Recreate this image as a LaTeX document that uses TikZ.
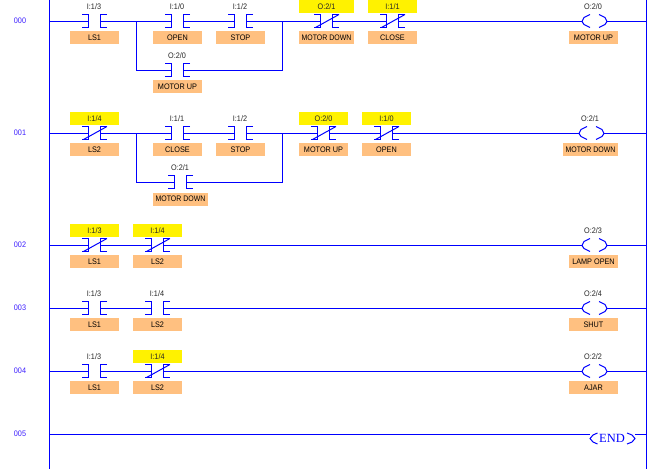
\documentclass[tikz,border=0pt]{standalone}
\usepackage{fontspec}
\setmainfont{Liberation Sans}
\newfontfamily\endfont{Liberation Serif}
\newfontfamily\labelfont[FakeStretch=0.91]{Liberation Sans}
\newfontfamily\widefont[FakeStretch=0.87]{Liberation Sans}
\definecolor{wire}{RGB}{0,0,255}
\definecolor{tagfill}{RGB}{255,192,128}
\definecolor{rungno}{RGB}{60,30,255}
\tikzset{
  wireline/.style={draw=wire,line width=1pt},
  symline/.style={draw=wire,line width=1pt,line join=miter},
  tag/.style={fill=tagfill,minimum height=13pt,minimum width=49pt,inner sep=0pt,font=\labelfont\fontsize{8}{8}\selectfont,text=black},
  widetag/.style={tag,minimum width=55pt,font=\widefont\fontsize{8}{8}\selectfont},
  addr/.style={inner sep=0pt,font=\labelfont\fontsize{8}{8}\selectfont,text=black!85},
  flag/.style={inner sep=0pt,minimum height=13pt,minimum width=49pt,fill=yellow,font=\labelfont\fontsize{8}{8}\selectfont,text=black!85},
  numlabel/.style={inner sep=0pt,font=\labelfont\fontsize{8}{8}\selectfont,text=rungno},
}
% #1 name, #2 x, #3 y
\newcommand{\contactNO}[3]{%
  \coordinate (#1l) at (#2-6,#3);
  \coordinate (#1r) at (#2+6,#3);
  \draw[symline] (#2-12.5,#3-7) -- (#2-6,#3-7) -- (#2-6,#3+6) -- (#2-12.5,#3+6);
  \draw[symline] (#2+12.5,#3-7) -- (#2+6,#3-7) -- (#2+6,#3+6) -- (#2+12.5,#3+6);
}
\newcommand{\contactNC}[3]{\contactNO{#1}{#2}{#3}%
  \draw[symline] (#2-11,#3+6) -- (#2+12.5,#3-7);}
\newcommand{\coilsym}[3]{%
  \coordinate (#1l) at (#2-12.5,#3);
  \coordinate (#1r) at (#2+12.5,#3);
  \draw[symline] (#2-4.5,#3-7) -- (#2-10.5,#3-4) -- (#2-12.5,#3) -- (#2-10.5,#3+3) -- (#2-4.5,#3+6);
  \draw[symline] (#2+4.5,#3-7) -- (#2+10.5,#3-4) -- (#2+12.5,#3) -- (#2+10.5,#3+3) -- (#2+4.5,#3+6);}
\begin{document}
\begin{tikzpicture}[x=1pt,y=-1pt]
\useasboundingbox (0,0) rectangle (660,469);
\fill[white] (0,0) rectangle (660,469);
% rails
\coordinate (railLt) at (49.5,0); \coordinate (railLb) at (49.5,469);
\coordinate (railRt) at (646.5,0); \coordinate (railRb) at (646.5,469);
\draw[wireline] (railLt) -- (railLb);
\draw[wireline] (railRt) -- (railRb);
% rung numbers
\foreach \n/\y in {000/21,001/133,002/245,003/308,004/371,005/434}
  \node[numlabel] (num\n) at (20,\y) {\n};
% rail junctions
\foreach \k/\y in {a/21.5,b/133.5,c/245.5,d/308.5,e/371.5,f/434.5}{
  \coordinate (l\k) at (49.5,\y);
  \coordinate (r\k) at (646.5,\y);
}
% ---- rung 000
\contactNO{a1}{94.5}{21.5}\contactNO{a2}{177.5}{21.5}\contactNO{a3}{240.5}{21.5}
\contactNC{a4}{326.5}{21.5}\contactNC{a5}{392.5}{21.5}\coilsym{a6}{594.5}{21.5}
\contactNO{a7}{177.5}{70.5}
\coordinate (abl) at (136.5,21.5); \coordinate (abr) at (282.5,21.5);
\coordinate (abld) at (136.5,70.5); \coordinate (abrd) at (282.5,70.5);
\draw[wireline] (la) -- (a1l) (a1r) -- (a2l) (a2r) -- (a3l) (a3r) -- (a4l) (a4r) -- (a5l) (a5r) -- (a6l) (a6r) -- (ra);
\draw[wireline] (abl) -- (abld) -- (a7l) (a7r) -- (abrd) -- (abr);
\node[addr] (ta1) at (94,7) {I:1/3};
\node[addr] (ta2) at (177,7) {I:1/0};
\node[addr] (ta3) at (240,7) {I:1/2};
\node[flag,minimum width=54.5pt] (ta4) at (326.5,6.5) {O:2/1};
\node[flag] (ta5) at (392.5,6.5) {I:1/1};
\node[addr] (ta6) at (593,7) {O:2/0};
\node[addr] (ta7) at (177,56) {O:2/0};
\node[tag] (ba1) at (94.5,37.5) {LS1};
\node[tag] (ba2) at (177.5,37.5) {OPEN};
\node[tag] (ba3) at (240.5,37.5) {STOP};
\node[widetag,minimum width=54.5pt] (ba4) at (326.5,37.5) {MOTOR DOWN};
\node[tag] (ba5) at (392.5,37.5) {CLOSE};
\node[tag] (ba6) at (593.5,37.5) {MOTOR UP};
\node[tag] (ba7) at (177.5,86.5) {MOTOR UP};
% ---- rung 001
\contactNC{b1}{94.5}{133.5}\contactNO{b2}{177.5}{133.5}\contactNO{b3}{240.5}{133.5}
\contactNC{b4}{323.5}{133.5}\contactNC{b5}{386.5}{133.5}\coilsym{b6}{591.5}{133.5}
\contactNO{b7}{180.5}{182.5}
\coordinate (bbl) at (136.5,133.5); \coordinate (bbr) at (282.5,133.5);
\coordinate (bbld) at (136.5,182.5); \coordinate (bbrd) at (282.5,182.5);
\draw[wireline] (lb) -- (b1l) (b1r) -- (b2l) (b2r) -- (b3l) (b3r) -- (b4l) (b4r) -- (b5l) (b5r) -- (b6l) (b6r) -- (rb);
\draw[wireline] (bbl) -- (bbld) -- (b7l) (b7r) -- (bbrd) -- (bbr);
\node[flag] (tb1) at (94.5,118.5) {I:1/4};
\node[addr] (tb2) at (177,119) {I:1/1};
\node[addr] (tb3) at (240,119) {I:1/2};
\node[flag] (tb4) at (323.5,118.5) {O:2/0};
\node[flag] (tb5) at (386.5,118.5) {I:1/0};
\node[addr] (tb6) at (590,119) {O:2/1};
\node[addr] (tb7) at (180,168) {O:2/1};
\node[tag] (bb1) at (94.5,149.5) {LS2};
\node[tag] (bb2) at (177.5,149.5) {CLOSE};
\node[tag] (bb3) at (240.5,149.5) {STOP};
\node[tag] (bb4) at (323.5,149.5) {MOTOR UP};
\node[tag] (bb5) at (386.5,149.5) {OPEN};
\node[widetag] (bb6) at (590.5,149.5) {MOTOR DOWN};
\node[widetag] (bb7) at (180.5,199) {MOTOR DOWN};
% ---- rung 002
\contactNC{c1}{94.5}{245.5}\contactNC{c2}{157.5}{245.5}\coilsym{c3}{594.5}{245.5}
\draw[wireline] (lc) -- (c1l) (c1r) -- (c2l) (c2r) -- (c3l) (c3r) -- (rc);
\node[flag] (tc1) at (94.5,230.5) {I:1/3};
\node[flag] (tc2) at (157.5,230.5) {I:1/4};
\node[addr] (tc3) at (593,231) {O:2/3};
\node[tag] (bc1) at (94.5,261.5) {LS1};
\node[tag] (bc2) at (157.5,261.5) {LS2};
\node[tag] (bc3) at (593.5,261.5) {LAMP OPEN};
% ---- rung 003
\contactNO{d1}{94.5}{308.5}\contactNO{d2}{157.5}{308.5}\coilsym{d3}{594.5}{308.5}
\draw[wireline] (ld) -- (d1l) (d1r) -- (d2l) (d2r) -- (d3l) (d3r) -- (rd);
\node[addr] (td1) at (94,294) {I:1/3};
\node[addr] (td2) at (157,294) {I:1/4};
\node[addr] (td3) at (593,294) {O:2/4};
\node[tag] (bd1) at (94.5,324.5) {LS1};
\node[tag] (bd2) at (157.5,324.5) {LS2};
\node[tag] (bd3) at (593.5,324.5) {SHUT};
% ---- rung 004
\contactNO{e1}{94.5}{371.5}\contactNC{e2}{157.5}{371.5}\coilsym{e3}{594.5}{371.5}
\draw[wireline] (le) -- (e1l) (e1r) -- (e2l) (e2r) -- (e3l) (e3r) -- (re);
\node[addr] (te1) at (94,357) {I:1/3};
\node[flag] (te2) at (157.5,356.5) {I:1/4};
\node[addr] (te3) at (593,357) {O:2/2};
\node[tag] (be1) at (94.5,387.5) {LS1};
\node[tag] (be2) at (157.5,387.5) {LS2};
\node[tag] (be3) at (593.5,387.5) {AJAR};
% ---- rung 005
\coordinate (fl) at (590,434.5); \coordinate (fr) at (635,434.5);
\draw[wireline] (lf) -- (fl) (fr) -- (rf);
\draw[symline] (597.5,433) -- (593,435) -- (590,438.5) -- (593,442) -- (597.5,444);
\draw[symline] (627,433) -- (632,435) -- (635,438.5) -- (632,442) -- (627,444);
\node[inner sep=0pt,text=wire,font=\endfont\fontsize{12.5}{13}\selectfont] (endtxt) at (612,438.5) {END};
\end{tikzpicture}
\end{document}
